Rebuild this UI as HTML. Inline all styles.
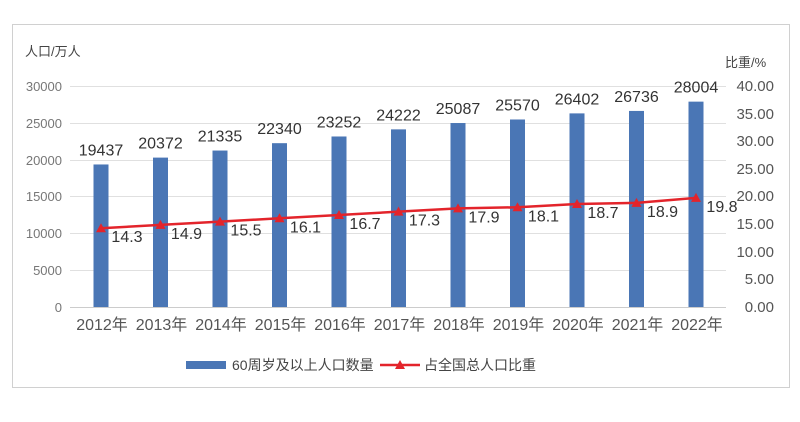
<!DOCTYPE html>
<html><head><meta charset="utf-8"><style>
body{margin:0;background:#fff;}
svg text{font-family:"Liberation Sans","Noto Sans CJK SC",sans-serif;}
</style></head><body>
<svg width="800" height="417" xmlns="http://www.w3.org/2000/svg">
<rect x="12.5" y="24.5" width="777" height="363" fill="#fff" stroke="#d0d0d0"/>
<text x="25" y="56" font-size="13" fill="#444">人口/万人</text>
<text x="725" y="67" font-size="13" fill="#444">比重/%</text>
<g stroke="#e0e0e0" stroke-width="1">
<line x1="70" x2="726" y1="86.5" y2="86.5"/><line x1="70" x2="726" y1="123.5" y2="123.5"/>
<line x1="70" x2="726" y1="160.5" y2="160.5"/><line x1="70" x2="726" y1="196.5" y2="196.5"/>
<line x1="70" x2="726" y1="233.5" y2="233.5"/><line x1="70" x2="726" y1="270.5" y2="270.5"/>
<line x1="70" x2="726" y1="307.5" y2="307.5" stroke="#ccc"/>
</g>
<g font-size="13" fill="#777" text-anchor="end" font-family="Liberation Serif">
<text x="62" y="91">30000</text><text x="62" y="128">25000</text><text x="62" y="165">20000</text>
<text x="62" y="201">15000</text><text x="62" y="238">10000</text><text x="62" y="275">5000</text><text x="62" y="312">0</text>
</g>
<g font-size="15" fill="#555" text-anchor="end">
<text x="774" y="91">40.00</text><text x="774" y="119">35.00</text><text x="774" y="146">30.00</text>
<text x="774" y="174">25.00</text><text x="774" y="201">20.00</text><text x="774" y="229">15.00</text>
<text x="774" y="257">10.00</text><text x="774" y="284">5.00</text><text x="774" y="312">0.00</text>
</g>
<g id="bars" fill="#4a76b5"></g>
<g id="blabels" font-size="16" fill="#333" text-anchor="middle"></g>
<g id="xl" font-size="16" fill="#555" text-anchor="middle"></g>
<polyline id="ln" fill="none" stroke="#e3242b" stroke-width="2.5"/>
<g id="mk" fill="#e3242b"></g>
<g id="ll" font-size="16" fill="#333" text-anchor="middle"></g>
<rect x="186" y="361" width="40" height="8" fill="#4a76b5"/>
<text x="232" y="370" font-size="14" fill="#444">60周岁及以上人口数量</text>
<line x1="380" y1="365" x2="420" y2="365" stroke="#e3242b" stroke-width="2.5"/>
<polygon points="400,360 405,369 395,369" fill="#e3242b"/>
<text x="424" y="370" font-size="14" fill="#444">占全国总人口比重</text>
<script>
var v=[19437,20372,21335,22340,23252,24222,25087,25570,26402,26736,28004];
var p=[14.3,14.9,15.5,16.1,16.7,17.3,17.9,18.1,18.7,18.9,19.8];
var ns="http://www.w3.org/2000/svg",pts=[];
function el(g,t,a,txt){var e=document.createElementNS(ns,t);for(var k in a)e.setAttribute(k,a[k]);if(txt)e.textContent=txt;document.getElementById(g).appendChild(e);}
for(var i=0;i<11;i++){var cx=101+i*59.5,y=307-v[i]*220/30000;
el("bars","rect",{x:cx-7.5,y:y,width:15,height:307-y});
el("blabels","text",{x:cx,y:y-9},""+v[i]);
el("xl","text",{x:cx+1,y:330},(2012+i)+"年");
var ly=307-p[i]*5.51;pts.push(cx+","+ly);
el("mk","polygon",{points:cx+","+(ly-5)+" "+(cx+5)+","+(ly+4)+" "+(cx-5)+","+(ly+4)});
el("ll","text",{x:cx+26,y:ly+14},p[i].toFixed(1));}
document.getElementById("ln").setAttribute("points",pts.join(" "));
</script>
</svg>
</body></html>
